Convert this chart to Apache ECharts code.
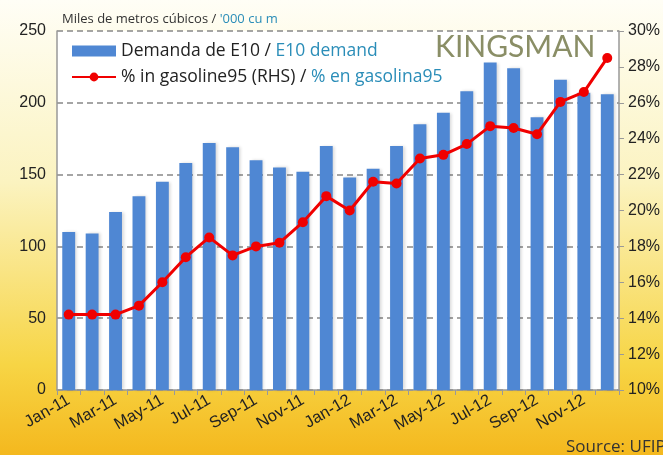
<!DOCTYPE html>
<html><head><meta charset="utf-8">
<script src="https://cdn.jsdelivr.net/npm/echarts@6/dist/echarts.min.js"></script>
<style>html,body{margin:0;padding:0;}#c{width:663px;height:455px;}</style>
</head><body><div id="c"></div>
<script>
const categories = ['Jan-11','Feb-11','Mar-11','Apr-11','May-11','Jun-11','Jul-11','Aug-11','Sep-11','Oct-11','Nov-11','Dec-11',
  'Jan-12','Feb-12','Mar-12','Apr-12','May-12','Jun-12','Jul-12','Aug-12','Sep-12','Oct-12','Nov-12','Dec-12'];
const e10Demand = [110,109,124,135,145,158,172,169,160,155,152,170,148,154,170,185,193,208,228,224,190,216,207,206];
const pctGasoline95 = [14.2,14.2,14.2,14.7,16.0,17.4,18.5,17.5,18.0,18.2,19.35,20.8,20.0,21.6,21.5,22.9,23.1,23.7,24.7,24.6,24.25,26.05,26.6,28.5];
const leftTicks = [0,50,100,150,200,250];
const rightTicks = [10,12,14,16,18,20,22,24,26,28,30];

const chart = echarts.init(document.getElementById('c'));
chart.setOption({
  backgroundColor: {type:'linear',x:0,y:0,x2:0,y2:1,colorStops:[
    {offset:0,color:'#fffef6'},{offset:0.4,color:'#fbf3c0'},{offset:0.8,color:'#f7d545'},{offset:1,color:'#f4b81e'}]},
  animation:false,
  title:{
    text:'{a|Miles de metros cúbicos / }{b|\'000 cu m}',
    left:57, top:8,
    textStyle:{rich:{
      a:{fontFamily:'Open Sans',fontSize:13,fontWeight:'normal',color:'#333'},
      b:{fontFamily:'Open Sans',fontSize:13,fontWeight:'normal',color:'#2a8db8'}}}
  },
  legend:{
    orient:'vertical', left:66, top:37, itemGap:8, itemWidth:44, itemHeight:11,
    data:[{name:'Demanda de E10', icon:'rect'},{name:'% in gasoline95'}],
    formatter:function(n){
      if(n==='Demanda de E10') return '{a|Demanda de E10 / }{b|E10 demand}';
      return '{a|% in gasoline95 (RHS) / }{b|% en gasolina95}';
    },
    textStyle:{rich:{
      a:{fontFamily:'Open Sans',fontSize:17.5,color:'#222'},
      b:{fontFamily:'Open Sans',fontSize:17.5,color:'#2a8db8'}}}
  },
  graphic:[
    {type:'text',left:435,top:32,style:{text:'KINGSMAN',fontFamily:'Lato',fontSize:30,fontWeight:'normal',fill:'#8a8e66'}},
    {type:'text',left:566,top:439,style:{text:'Source: UFIP',fontFamily:'Open Sans',fontSize:17,fill:'#333'}}
  ],
  grid:{left:57,right:43,top:31,bottom:65,show:true,backgroundColor:'#ffffff',borderWidth:0},
  xAxis:{
    type:'category', data:categories,
    axisLine:{lineStyle:{color:'#999',width:1.5}},
    axisTick:{show:true,interval:0,lineStyle:{color:'#999'}},
    axisLabel:{interval:1,rotate:30,fontFamily:'Liberation Sans',fontSize:16.5,color:'#222',margin:9}
  },
  yAxis:[
    {type:'value',min:0,max:250,interval:50,
      axisLine:{show:true,lineStyle:{color:'#999',width:1.5}},
      axisTick:{show:false},
      axisLabel:{fontFamily:'Liberation Sans',fontSize:16,color:'#222',margin:11,
        formatter:function(v){return leftTicks.indexOf(v)>=0?String(v):'';}},
      splitLine:{show:true,lineStyle:{color:'#888',type:[6,4],width:1.5}}},
    {type:'value',min:10,max:30,interval:2,position:'right',
      axisLine:{show:true,lineStyle:{color:'#999',width:1.5}},
      axisTick:{show:true,length:5,lineStyle:{color:'#999'}},
      axisLabel:{fontFamily:'Liberation Sans',fontSize:16,color:'#222',margin:9,
        formatter:function(v){return rightTicks.indexOf(v)>=0?v+'%':'';}},
      splitLine:{show:false}}
  ],
  series:[
    {name:'Demanda de E10',type:'bar',yAxisIndex:0,data:e10Demand,barWidth:'55%',
      itemStyle:{color:'#4f87d3',shadowColor:'rgba(0,0,0,0.15)',shadowBlur:3,shadowOffsetX:2}},
    {name:'% in gasoline95',type:'line',yAxisIndex:1,data:pctGasoline95,
      symbol:'circle',symbolSize:10,
      lineStyle:{color:'#f00000',width:3},
      itemStyle:{color:'#f00000'}}
  ]
});
</script></body></html>
